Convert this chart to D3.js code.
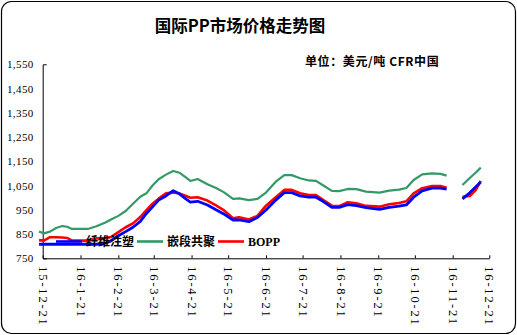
<!DOCTYPE html>
<html><head><meta charset="utf-8">
<script src="https://cdn.jsdelivr.net/npm/d3@7"></script>
<style>
html,body{margin:0;padding:0;background:#fff;}
svg{display:block;}
</style></head>
<body>
<script>
const dates = ["2015-12-18","2015-12-22","2015-12-27","2016-01-01","2016-01-06","2016-01-10","2016-01-14","2016-01-20","2016-01-27","2016-02-03","2016-02-10","2016-02-15","2016-02-21","2016-02-27","2016-03-04","2016-03-10","2016-03-15","2016-03-20","2016-03-25","2016-03-31","2016-04-06","2016-04-11","2016-04-16","2016-04-20","2016-04-26","2016-05-04","2016-05-11","2016-05-17","2016-05-25","2016-05-30","2016-06-07","2016-06-14","2016-06-21","2016-06-29","2016-07-06","2016-07-12","2016-07-19","2016-07-26","2016-08-01","2016-08-07","2016-08-14","2016-08-20","2016-08-27","2016-09-03","2016-09-11","2016-09-22","2016-09-30","2016-10-08","2016-10-14","2016-10-20","2016-10-27","2016-11-04","2016-11-11","2016-11-16","2016-11-22","2016-11-29","2016-12-05","2016-12-10","2016-12-14"];
const fiber = [808,808,808,808,808,808,808,808,808,808,812,822,843,860,878,902,935,962,990,1007,1029,1016,996,982,985,970,950,934,908,908,901,918,949,990,1021,1021,1007,1002,1002,984,960,960,971,967,959,952,960,965,970,1002,1028,1039,1039,1035,null,995,1020,1045,1065];
const block = [860,853,860,875,883,880,871,871,871,882,897,910,925,945,975,1004,1018,1050,1076,1095,1110,1103,1085,1069,1077,1055,1040,1024,995,997,990,995,1021,1066,1093,1093,1080,1071,1069,1050,1028,1027,1036,1035,1025,1021,1029,1033,1040,1073,1096,1100,1098,1091,null,1052,1081,1104,1124];
const bopp = [825,823,837,837,836,834,823,823,823,832,834,838,858,878,894,920,949,975,996,1018,1021,1017,1008,1000,1002,988,968,950,915,919,910,925,967,1002,1032,1032,1018,1011,1011,990,967,965,981,977,966,963,973,978,985,1018,1039,1048,1048,1041,null,1004,1007,1032,1069];
const xTickDates = ["2015-12-21","2016-01-21","2016-02-21","2016-03-21","2016-04-21","2016-05-21","2016-06-21","2016-07-21","2016-08-21","2016-09-21","2016-10-21","2016-11-21","2016-12-21"];
const xTickLabels = ["15-12-21","16-1-21","16-2-21","16-3-21","16-4-21","16-5-21","16-6-21","16-7-21","16-8-21","16-9-21","16-10-21","16-11-21","16-12-21"];
const yTicks = [750,850,950,1050,1150,1250,1350,1450,1550];
const yTickLabels = ["750","850","950","1,050","1,150","1,250","1,350","1,450","1,550"];
const seriesNames = ["纤维注塑","嵌段共聚","BOPP"];
const seriesColors = ["#0000FF","#339966","#FF0000"];

const W = 517, H = 335;
const parse = d3.timeParse("%Y-%m-%d");
const svg = d3.select("body").append("svg").attr("width", W).attr("height", H);

svg.append("rect").attr("x",1.5).attr("y",1.5).attr("width",W-3).attr("height",H-3)
  .attr("rx",10).attr("fill","#fff").attr("stroke","#000").attr("stroke-width",1.2);

svg.append("text").attr("x",240).attr("y",32).attr("text-anchor","middle")
  .attr("font-family","'Noto Sans CJK SC'").attr("font-weight","bold").attr("font-size",16.5)
  .text("国际PP市场价格走势图");

svg.append("text").attr("x",305).attr("y",66)
  .attr("font-family","'Noto Sans CJK SC'").attr("font-weight","bold").attr("font-size",12)
  .attr("letter-spacing",0.6)
  .text("单位：美元/吨 CFR中国");

const x = d3.scaleTime().domain([parse(xTickDates[0]), parse(xTickDates[xTickDates.length-1])]).range([42.7, 489.3]);
const y = d3.scaleLinear().domain([750,1550]).range([258.3, 64.3]);

const yAxis = d3.axisLeft(y).tickValues(yTicks).tickSizeInner(0).tickSizeOuter(-4).tickPadding(9)
  .tickFormat((d,i)=>yTickLabels[i]);
const gy = svg.append("g").attr("transform","translate(42.7,0)").call(yAxis);
gy.selectAll("text").attr("font-family","'Liberation Serif'").attr("font-size",11).attr("fill","#000").attr("letter-spacing",0.4);
gy.select(".domain").attr("stroke","#000").attr("stroke-width",1);

const xAxis = d3.axisBottom(x).tickValues(xTickDates.map(parse)).tickSizeInner(-3).tickSizeOuter(0)
  .tickFormat((d,i)=>xTickLabels[i]);
const gx = svg.append("g").attr("transform","translate(0,258.3)").call(xAxis);
gx.select(".domain").attr("stroke","#000").attr("stroke-width",1);
gx.selectAll(".tick line").attr("stroke","#000");
gx.selectAll("text").attr("font-family","'Liberation Serif'").attr("font-size",12.5).attr("fill","#000")
  .attr("letter-spacing",1.8)
  .attr("text-anchor","start").attr("transform","translate(0,8) rotate(90)")
  .attr("x",0).attr("y",0).attr("dy","0.35em");

const seriesData = [fiber, block, bopp];
const line = d3.line().defined(d=>d.v!==null).x(d=>x(d.d)).y(d=>y(d.v));
const widths = [2.8, 2.2, 2.6];
const order = [1,2,0];
order.forEach(k=>{
  const pts = dates.map((s,i)=>({d:parse(s), v:seriesData[k][i]}));
  svg.append("path").datum(pts).attr("d",line).attr("fill","none")
    .attr("stroke",seriesColors[k]).attr("stroke-width",widths[k]).attr("stroke-linejoin","round");
});

// legend
const legX = [56, 137, 218];
seriesNames.forEach((n,i)=>{
  const g = svg.append("g").attr("transform",`translate(${legX[i]},241.5)`);
  g.append("line").attr("x1",0).attr("x2",26).attr("y1",0).attr("y2",0)
    .attr("stroke",seriesColors[i]).attr("stroke-width",2.6);
  g.append("text").attr("x",30).attr("y",0).attr("dy","0.36em")
    .attr("font-family", i===2 ? "'Liberation Serif'" : "'Noto Sans CJK SC'")
    .attr("font-weight","bold").attr("font-size",12).attr("fill","#000").text(n);
});
</script>
</body></html>
